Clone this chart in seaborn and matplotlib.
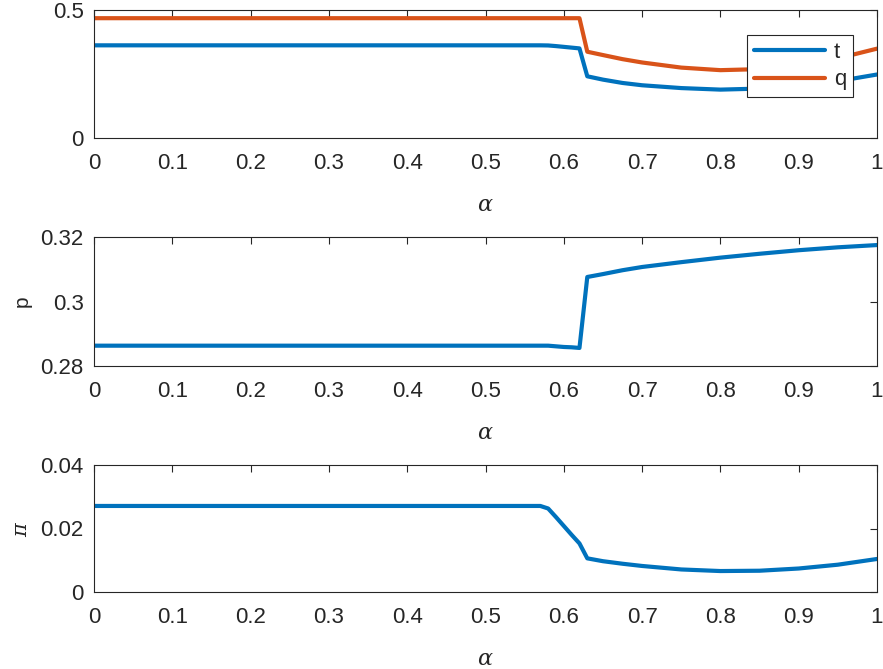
import matplotlib
matplotlib.use("Agg")
import matplotlib.pyplot as plt
import seaborn as sns
import pandas as pd

# Sampled values of the equilibrium quantities against alpha
alpha = [0.0, 0.57, 0.58, 0.59, 0.60, 0.61, 0.62, 0.63, 0.65, 0.675, 0.70,
         0.75, 0.80, 0.85, 0.90, 0.95, 1.0]
t_vals = [0.362, 0.362, 0.3615, 0.359, 0.356, 0.353, 0.350, 0.241, 0.228, 0.215,
          0.206, 0.195, 0.189, 0.193, 0.204, 0.222, 0.248]
q_vals = [0.468, 0.468, 0.468, 0.468, 0.468, 0.468, 0.468, 0.337, 0.324, 0.308,
          0.295, 0.275, 0.265, 0.269, 0.285, 0.311, 0.349]
p_vals = [0.2863, 0.2863, 0.2863, 0.2861, 0.2859, 0.2858, 0.2856, 0.3076, 0.3085,
          0.3097, 0.3107, 0.3122, 0.3136, 0.3148, 0.3159, 0.3168, 0.3175]
pi_vals = [0.0271, 0.0271, 0.0263, 0.0236, 0.0208, 0.0180, 0.0153, 0.0106, 0.0097,
           0.0089, 0.0082, 0.0071, 0.0066, 0.0067, 0.0074, 0.0086, 0.0104]

x_ticks = [0, 0.1, 0.2, 0.3, 0.4, 0.5, 0.6, 0.7, 0.8, 0.9, 1]
x_tick_labels = ["0", "0.1", "0.2", "0.3", "0.4", "0.5", "0.6", "0.7", "0.8", "0.9", "1"]

BLUE = "#0072BD"
ORANGE = "#D95319"
EDGE = "#262626"
FS = 16

sns.set_style("white")
plt.rcParams["font.family"] = ["Liberation Sans", "DejaVu Sans"]
plt.rcParams["mathtext.fontset"] = "dejavuserif"

fig = plt.figure(figsize=(8.83, 6.69), dpi=100)
left, width = 94 / 883, 783 / 883
ax1 = fig.add_axes([left, 1 - 138 / 669, width, 128 / 669])
ax2 = fig.add_axes([left, 1 - 366 / 669, width, 129 / 669])
ax3 = fig.add_axes([left, 1 - 592 / 669, width, 127 / 669])

df_tq = pd.DataFrame({
    "alpha": alpha * 2,
    "value": t_vals + q_vals,
    "series": ["t"] * len(alpha) + ["q"] * len(alpha),
})
df_p = pd.DataFrame({"alpha": alpha, "p": p_vals})
df_pi = pd.DataFrame({"alpha": alpha, "pi": pi_vals})

sns.lineplot(data=df_tq, x="alpha", y="value", hue="series",
             palette={"t": BLUE, "q": ORANGE}, linewidth=3, ax=ax1,
             estimator=None, sort=False)
sns.lineplot(data=df_p, x="alpha", y="p", color=BLUE, linewidth=3, ax=ax2,
             estimator=None, sort=False)
sns.lineplot(data=df_pi, x="alpha", y="pi", color=BLUE, linewidth=3, ax=ax3,
             estimator=None, sort=False)

ax1.set_ylim(0, 0.5)
ax1.set_yticks([0, 0.5])
ax1.set_yticklabels(["0", "0.5"])
ax1.set_ylabel("")

ax2.set_ylim(0.28, 0.32)
ax2.set_yticks([0.28, 0.30, 0.32])
ax2.set_yticklabels(["0.28", "0.3", "0.32"])
ax2.set_ylabel("p", fontsize=FS - 1, color=EDGE, labelpad=6)

ax3.set_ylim(0, 0.04)
ax3.set_yticks([0, 0.02, 0.04])
ax3.set_yticklabels(["0", "0.02", "0.04"])
ax3.set_ylabel(r"$\pi$", fontsize=FS - 1, color=EDGE, labelpad=7)

for ax in (ax1, ax2, ax3):
    ax.set_xlim(0, 1)
    ax.set_xticks(x_ticks)
    ax.set_xticklabels(x_tick_labels)
    ax.set_xlabel(r"$\alpha$", fontsize=FS, color=EDGE, labelpad=15)
    ax.tick_params(direction="in", length=5, width=0.8, colors=EDGE,
                   labelsize=FS, top=True, right=True)
    ax.tick_params(axis="x", pad=11)
    ax.tick_params(axis="y", pad=7.5)
    for s in ax.spines.values():
        s.set_visible(True)
        s.set_color(EDGE)
        s.set_linewidth(0.8)

leg = ax1.legend(loc="upper right", bbox_to_anchor=(0.969, 0.805),
                 fontsize=FS, handlelength=3.2, handletextpad=0.4,
                 borderpad=0.3, labelspacing=0.3, fancybox=False,
                 framealpha=1, edgecolor=EDGE, borderaxespad=0)
leg.get_frame().set_linewidth(0.8)

fig.savefig("out.png", dpi=100, facecolor="white")
